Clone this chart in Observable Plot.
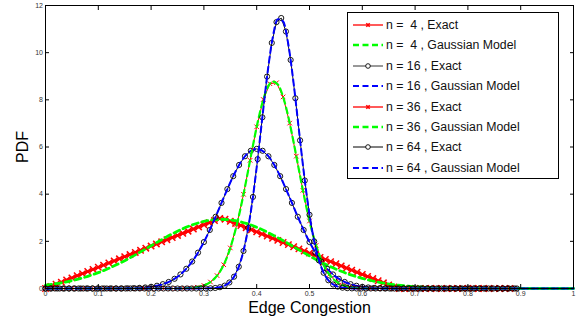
<!DOCTYPE html>
<html><head><meta charset="utf-8">
<script src="https://cdn.jsdelivr.net/npm/d3@7"></script>
<script src="https://cdn.jsdelivr.net/npm/@observablehq/plot@0.6"></script>
<style>
body{margin:0;background:#fff;}
#wrap{position:relative;width:585px;height:325px;font-family:"Liberation Sans",Arial,sans-serif;}
#legend{position:absolute;left:347px;top:12px;width:212px;height:167px;border:1px solid #000;background:#fff;box-sizing:border-box;padding-top:1.8px;}
.row{height:20.4px;display:flex;align-items:center;white-space:pre;font-size:12.3px;color:#111;}
.row svg{margin-left:5px;margin-right:1px;flex:none;}
</style></head><body><div id="wrap"></div>
<script>
// ---- tick labels ----
const xTicks = [0, 0.1, 0.2, 0.3, 0.4, 0.5, 0.6, 0.7, 0.8, 0.9, 1];
const yTicks = [0, 2, 4, 6, 8, 10, 12];

// ---- series ----
// n = 4, Exact (x step 0.01, 0..0.88)
const step4 = 0.01;
const exact4 = [0,0.09,0.18,0.27,0.36,0.45,0.54,0.63,0.72,0.81,0.90,0.99,1.08,1.17,1.26,1.35,1.44,1.53,1.62,1.71,1.80,1.89,1.98,2.07,2.16,2.25,2.34,2.43,2.52,2.61,2.70,2.79,2.88,2.97,
  2.94,2.85,2.76,2.67,2.58,2.49,2.40,2.31,2.22,2.13,2.04,1.95,1.86,1.77,1.68,1.59,1.50,1.41,1.32,1.23,1.14,1.05,0.96,0.87,0.78,0.69,0.60,0.51,0.42,0.33,0.24,0.15,0.06,
  0,0,0,0,0,0,0,0,0,0,0,0,0,0,0,0,0,0,0,0,0,0];
// n = 4, Gaussian Model (x step 0.02, 0..1)
const gStep4 = 0.02;
const gauss4 = [0.145,0.206,0.286,0.389,0.517,0.672,0.856,1.067,1.301,1.552,1.812,2.071,2.315,2.534,2.713,2.843,2.916,2.926,2.874,2.762,2.598,2.391,2.154,1.899,1.638,1.383,1.142,0.923,0.730,0.565,0.429,0.318,0.231,0.164,0.114,0.077,0.051,0.034,0.021,0.013,0.008,0.005,0.003,0.002,0.001,0,0,0,0,0,0];
// n = 16, Exact (x step 1/90, 0..0.889)
const step16 = 1 / 90;
const exact16 = [0,0,0,0,0,0,0,0,0,0,0,0,0,0,
  0.008,0.015,0.026,0.044,0.073,0.117,0.183,0.278,0.412,0.596,0.837,1.144,1.521,1.970,2.481,3.042,3.630,4.215,4.763,5.239,5.607,5.840,5.920,5.840,5.607,5.239,4.763,4.215,3.630,3.042,2.481,1.970,1.521,1.144,0.837,0.596,0.412,0.278,0.183,0.117,0.073,0.044,0.026,0.015,0.008,
  0,0,0,0,0,0,0,0,0,0,0,0,0,0,0,0,0,0,0,0,0,0];
// n = 16, Gaussian Model (x step 0.02, 0..1)
const gStep16 = 0.02;
const gauss16 = [0,0,0,0,0,0,0,0.003,0.010,0.029,0.073,0.167,0.354,0.685,1.213,1.970,2.927,3.983,4.964,5.665,5.920,5.665,4.964,3.983,2.927,1.970,1.213,0.685,0.354,0.167,0.073,0.029,0.010,0.003,
  0,0,0,0,0,0,0,0,0,0,0,0,0,0,0,0,0];
// n = 36, Exact (x step 1/80, 0..0.8875)
const step36 = 1 / 80;
const exact36 = [0,0,0,0,0,0,0,0,0,0,0,0,0,0,0,0,0,0,0,0,0,
  0.008,0.022,0.055,0.128,0.275,0.546,1.007,1.720,2.723,3.996,5.435,6.855,8.014,8.684,8.724,8.124,7.013,5.611,4.163,2.862,1.824,1.078,0.591,0.300,0.141,0.062,0.025,0.009,
  0,0,0,0,0,0,0,0,0,0,0,0,0,0,0,0,0,0,0,0,0,0,0];
// n = 36, Gaussian Model (x step 0.01, 0..1)
const gStep36 = 0.01;
const gauss36 = [0,0,0,0,0,0,0,0,0,0,0,0,0,0,0,0,0,0,0,0,0,0,0,0,0,0,
  0.007,0.015,0.032,0.066,0.128,0.238,0.419,0.704,1.127,1.720,2.498,3.458,4.560,5.728,6.855,7.814,8.487,8.779,8.653,8.124,7.266,6.191,5.025,3.885,2.862,2.009,1.343,0.855,0.519,0.300,0.165,0.087,0.043,0.021,0.009,0.004,
  0,0,0,0,0,0,0,0,0,0,0,0,0,0,0,0,0,0,0,0,0,0,0,0,0,0,0,0,0,0,0,0,0,0,0,0,0,0,0];
// n = 64, Exact (x step 1/112, 0..0.893)
const step64 = 1 / 112;
const exact64 = [0,0,0,0,0,0,0,0,0,0,0,0,0,0,0,0,0,0,0,0,0,0,0,0,0,0,0,0,0,0,0,0,0,0,
  0.003,0.009,0.022,0.054,0.121,0.255,0.501,0.923,1.592,2.570,3.882,5.485,7.257,8.986,10.414,11.297,11.469,10.897,9.690,8.068,6.283,4.580,3.126,1.996,1.193,0.667,0.350,0.171,0.079,0.034,0.014,0.005,
  0,0,0,0,0,0,0,0,0,0,0,0,0,0,0,0,0,0,0,0,0,0,0,0,0,0,0,0,0,0,0,0,0,0,0];
// n = 64, Gaussian Model (x step 0.01, 0..1)
const gStep64 = 0.01;
const gauss64 = [0,0,0,0,0,0,0,0,0,0,0,0,0,0,0,0,0,0,0,0,0,0,0,0,0,0,0,0,0,0,0,
  0.007,0.019,0.052,0.129,0.293,0.614,1.183,2.098,3.425,5.146,7.115,9.052,10.598,11.421,11.327,10.338,8.683,6.712,4.775,3.126,1.883,1.044,0.533,0.250,0.108,0.043,0.016,0.005,
  0,0,0,0,0,0,0,0,0,0,0,0,0,0,0,0,0,0,0,0,0,0,0,0,0,0,0,0,0,0,0,0,0,0,0,0,0,0,0,0,0,0];

const legendLabels = ["n =  4 , Exact", "n =  4 , Gaussian Model", "n = 16 , Exact", "n = 16 , Gaussian Model",
                      "n = 36 , Exact", "n = 36 , Gaussian Model", "n = 64 , Exact", "n = 64 , Gaussian Model"];
const xLabel = "Edge Congestion";
const yLabel = "PDF";

// ---- build tables ----
const pts = (step, ys) => ys.map((y, i) => ({x: i * step, y}));
const E4 = pts(step4, exact4), G4 = pts(gStep4, gauss4);
const E16 = pts(step16, exact16), G16 = pts(gStep16, gauss16);
const E36 = pts(step36, exact36), G36 = pts(gStep36, gauss36);
const E64 = pts(step64, exact64), G64 = pts(gStep64, gauss64);

const RED = "#ff0000", GREEN = "#00ff00", BLUE = "#0000ff", BLACK = "#000000";
const tickStyle = {fontSize: 7, fill: "#333", stroke: BLACK};

const chart = Plot.plot({
  width: 585, height: 325,
  marginLeft: 45, marginRight: 12, marginTop: 5, marginBottom: 37,
  style: {fontFamily: "Liberation Sans, Arial, sans-serif", background: "#fff"},
  x: {domain: [0, 1]},
  y: {domain: [0, 12]},
  marks: [
    // n = 4
    Plot.line(E4, {x: "x", y: "y", stroke: RED, strokeWidth: 2.6}),
    Plot.dot(E4, {x: "x", y: "y", symbol: "times", r: 3, stroke: RED, strokeWidth: 1.5}),
    Plot.line(G4, {x: "x", y: "y", stroke: GREEN, strokeWidth: 2.8, strokeDasharray: "6,4", curve: "monotone-x"}),
    // n = 16
    Plot.line(E16, {x: "x", y: "y", stroke: BLACK, strokeWidth: 0.9}),
    Plot.dot(E16, {x: "x", y: "y", r: 2.6, stroke: BLACK, fill: "none", strokeWidth: 0.9}),
    Plot.line(G16, {x: "x", y: "y", stroke: BLUE, strokeWidth: 2, strokeDasharray: "6,4", curve: "monotone-x"}),
    // n = 36
    Plot.line(E36, {x: "x", y: "y", stroke: RED, strokeWidth: 1}),
    Plot.dot(E36, {x: "x", y: "y", symbol: "times", r: 2.2, stroke: RED, strokeWidth: 1}),
    Plot.line(G36, {x: "x", y: "y", stroke: GREEN, strokeWidth: 2.2, strokeDasharray: "6,4", curve: "monotone-x"}),
    // n = 64
    Plot.line(E64, {x: "x", y: "y", stroke: BLACK, strokeWidth: 0.9}),
    Plot.dot(E64, {x: "x", y: "y", r: 2.6, stroke: BLACK, fill: "none", strokeWidth: 0.9}),
    Plot.line(G64, {x: "x", y: "y", stroke: BLUE, strokeWidth: 2, strokeDasharray: "6,4", curve: "monotone-x"}),
    // box and axes (MATLAB style: inward ticks)
    Plot.frame({stroke: BLACK, strokeWidth: 1}),
    Plot.axisX(xTicks, {anchor: "bottom", tickSize: -4, tickPadding: 7, ...tickStyle, label: null, tickFormat: d => String(d)}),
    Plot.axisX(xTicks, {anchor: "top", tickSize: -4, label: null, tickFormat: () => "", stroke: BLACK}),
    Plot.axisY(yTicks, {anchor: "left", tickSize: -4, tickPadding: 6.5, ...tickStyle, label: null, tickFormat: d => String(d)}),
    Plot.axisY(yTicks, {anchor: "right", tickSize: -4, label: null, tickFormat: () => "", stroke: BLACK}),
    Plot.text([xLabel], {frameAnchor: "bottom", lineAnchor: "middle", textAnchor: "middle", dy: 19, fontSize: 16, fill: BLACK, text: d => d}),
    Plot.text([yLabel], {frameAnchor: "left", lineAnchor: "middle", textAnchor: "middle", dx: -23, rotate: -90, fontSize: 16, fill: BLACK, text: d => d})
  ]
});

const wrap = document.getElementById("wrap");
wrap.appendChild(chart);

// ---- legend (inside the axes, top right) ----
const legendStyles = [
  {color: RED, dash: null, width: 1.3, marker: "times"},
  {color: GREEN, dash: "6,3.5", width: 2.6, marker: null},
  {color: "#333", dash: null, width: 1, marker: "circle"},
  {color: BLUE, dash: "6,3.5", width: 2, marker: null},
  {color: RED, dash: null, width: 1.3, marker: "times"},
  {color: GREEN, dash: "6,3.5", width: 2.6, marker: null},
  {color: BLACK, dash: null, width: 1, marker: "circle"},
  {color: BLUE, dash: "6,3.5", width: 2, marker: null}
];
const legend = document.createElement("div");
legend.id = "legend";
legendLabels.forEach((lab, i) => {
  const s = legendStyles[i];
  const row = document.createElement("div");
  row.className = "row";
  let sw = `<svg width="32" height="12" viewBox="0 0 32 12"><line x1="0" y1="6" x2="30" y2="6" stroke="${s.color}" stroke-width="${s.width}"${s.dash ? ` stroke-dasharray="${s.dash}"` : ""}/>`;
  if (s.marker === "times") sw += `<path d="M13.3,4.3L16.7,7.7M16.7,4.3L13.3,7.7" stroke="${s.color}" stroke-width="1.6"/>`;
  if (s.marker === "circle") sw += `<circle cx="15" cy="6" r="2.3" fill="#fff" stroke="${BLACK}" stroke-width="0.9"/>`;
  sw += `</svg>`;
  row.innerHTML = sw;
  const t = document.createElement("span");
  t.textContent = lab;
  row.appendChild(t);
  legend.appendChild(row);
});
wrap.appendChild(legend);
</script>
</body></html>
